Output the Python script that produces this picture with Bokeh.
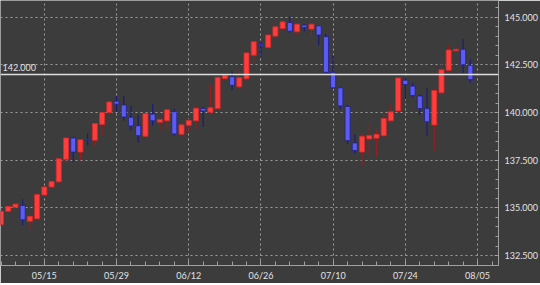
import pandas as pd
from bokeh.plotting import figure
from bokeh.models import Range1d, FixedTicker, NumeralTickFormatter, LinearAxis, Span, Label
from bokeh.embed import file_html
from bokeh.resources import INLINE

# ---- data (USD/JPY daily candles) ----
dates = [d.strftime("%m/%d") for d in pd.bdate_range("2023-05-05", "2023-08-04")]

opens = [134.12, 134.82, 135.03, 135.13, 134.30, 134.43, 135.68, 136.10, 136.37, 137.55,
         138.67, 137.93, 138.60, 138.55, 139.38, 140.00, 140.60, 140.40, 139.75, 139.31,
         138.76, 139.92, 139.49, 139.57, 140.05, 138.86, 139.33, 139.57, 140.22, 140.02,
         140.21, 141.78, 141.88, 141.35, 141.77, 143.01, 143.58, 143.42, 144.01, 144.41,
         144.72, 144.24, 144.59, 144.38, 144.55, 143.98, 142.11, 141.30, 140.32, 138.41,
         137.93, 138.62, 138.66, 138.79, 139.57, 140.09, 141.70, 141.39, 140.87, 140.21,
         139.35, 141.04, 142.22, 143.24, 143.32, 142.48]
highs = [134.90, 135.12, 135.25, 135.45, 134.60, 135.75, 136.12, 136.42, 137.62, 138.70,
         138.72, 138.62, 138.90, 139.45, 140.02, 140.60, 140.87, 140.90, 140.35, 139.90,
         140.00, 140.44, 139.77, 140.20, 140.20, 139.40, 139.66, 140.35, 140.30, 141.47,
         141.88, 142.00, 142.15, 142.29, 143.15, 143.75, 143.70, 144.10, 144.52, 144.80,
         145.05, 144.66, 144.63, 144.66, 144.60, 144.12, 143.00, 141.35, 140.40, 138.85,
         138.90, 139.40, 139.14, 140.00, 140.44, 141.85, 141.82, 141.56, 140.95, 141.30,
         141.20, 142.60, 143.50, 143.35, 143.89, 142.80]
lows = [134.05, 134.75, 134.95, 134.10, 133.88, 134.40, 135.62, 136.05, 136.30, 137.38,
        137.40, 137.50, 138.27, 138.24, 138.82, 139.95, 140.05, 139.57, 139.05, 138.45,
        138.70, 139.31, 139.05, 139.14, 138.80, 138.70, 138.97, 139.14, 139.25, 139.97,
        140.15, 141.72, 141.16, 141.30, 141.70, 142.62, 142.94, 143.38, 143.95, 144.35,
        144.20, 144.07, 144.24, 144.07, 143.55, 142.05, 141.25, 140.18, 138.36, 137.85,
        137.24, 137.75, 137.70, 138.70, 139.50, 140.02, 140.70, 140.78, 139.86, 138.76,
        138.00, 140.95, 142.15, 143.20, 142.08, 141.56]
closes = [134.82, 135.08, 135.20, 134.38, 134.56, 135.70, 136.10, 136.39, 137.58, 138.67,
          137.93, 138.58, 138.55, 139.43, 140.00, 140.56, 140.44, 139.77, 139.30, 138.79,
          139.95, 139.57, 139.64, 140.15, 138.88, 139.36, 139.58, 140.23, 140.09, 140.26,
          141.85, 141.97, 141.43, 141.83, 143.13, 143.72, 143.50, 144.07, 144.50, 144.76,
          144.27, 144.64, 144.47, 144.64, 144.07, 142.11, 141.30, 140.35, 138.53, 138.01,
          138.76, 138.80, 138.86, 139.69, 140.04, 141.82, 141.47, 140.90, 140.21, 139.52,
          141.16, 142.25, 143.29, 143.32, 142.51, 141.73]

x_tick_labels = ["05/15", "05/29", "06/12", "06/26", "07/10", "07/24", "08/05"]
y_ticks = [132.5, 135.0, 137.5, 140.0, 142.5, 145.0]
ref_level = 142.0

# ---- derived ----
xs = list(range(len(dates)))
tick_pos = [dates.index(t) if t in dates else len(dates) for t in x_tick_labels]
up = [c >= o for o, c in zip(opens, closes)]
tops = [max(o, c) for o, c in zip(opens, closes)]
bots = [min(o, c) for o, c in zip(opens, closes)]

UP_FILL, UP_LINE, UP_WICK = "#ff3d3d", "#d42a2a", "#9a1c1c"
DN_FILL, DN_LINE, DN_WICK = "#5c5cf2", "#22228c", "#1c1c78"
BG = "#3c3c3c"
TXT = "#e2e2e2"
FONT = "Lato"

p = figure(width=540, height=283, output_backend="svg", toolbar_location=None,
           x_range=Range1d(-0.07, 68.9), y_range=Range1d(131.98, 145.88),
           y_axis_location=None)
p.min_border_left = 0
p.min_border_right = 40
p.min_border_top = 0
p.min_border_bottom = 15
p.background_fill_color = BG
p.border_fill_color = BG
p.outline_line_color = None

# wicks
for flag, col in ((True, UP_WICK), (False, DN_WICK)):
    idx = [i for i in xs if up[i] == flag]
    p.segment(x0=[xs[i] for i in idx], y0=[highs[i] for i in idx],
              x1=[xs[i] for i in idx], y1=[lows[i] for i in idx],
              line_color=col, line_width=1.2)
# bodies
for flag, fc, lc in ((True, UP_FILL, UP_LINE), (False, DN_FILL, DN_LINE)):
    idx = [i for i in xs if up[i] == flag]
    p.vbar(x=[xs[i] for i in idx], width=0.7, top=[tops[i] for i in idx],
           bottom=[bots[i] for i in idx], fill_color=fc, line_color=lc, line_width=0.8)

# x axis
xa = p.xaxis[0]
xa.ticker = FixedTicker(ticks=tick_pos, minor_ticks=list(range(0, len(dates) + 4, 2)))
xa.major_label_overrides = {tp: lab for tp, lab in zip(tick_pos, x_tick_labels)}
xa.axis_line_color = "#a0a0a0"
xa.major_tick_in = 5
xa.major_tick_out = 0
xa.minor_tick_in = 4
xa.minor_tick_out = 0
xa.major_tick_line_color = "#a0a0a0"
xa.minor_tick_line_color = "#a0a0a0"
xa.major_label_text_color = TXT
xa.major_label_text_font = FONT
xa.major_label_text_font_size = "9px"
xa.major_label_standoff = 4

# right y axis
ya = LinearAxis(ticker=FixedTicker(ticks=y_ticks,
                                   minor_ticks=[131.5 + 0.5 * k for k in range(30)]),
                formatter=NumeralTickFormatter(format="0.000"))
ya.axis_line_color = "#a0a0a0"
ya.major_tick_in = 4
ya.major_tick_out = 0
ya.minor_tick_in = 3
ya.minor_tick_out = 0
ya.major_tick_line_color = "#a0a0a0"
ya.minor_tick_line_color = "#a0a0a0"
ya.major_label_text_color = TXT
ya.major_label_text_font = FONT
ya.major_label_text_font_size = "9px"
ya.major_label_standoff = 6
p.add_layout(ya, "right")

# grids
p.xgrid.ticker = xa.ticker
p.ygrid.ticker = ya.ticker
for g in (p.xgrid[0], p.ygrid[0]):
    g.grid_line_color = "#a8a8a8"
    g.grid_line_dash = "2 3"
    g.grid_line_width = 1
    g.grid_line_alpha = 0.9

# reference line
p.add_layout(Span(location=ref_level, dimension="width", line_color="#dedede", line_width=1.5))
p.add_layout(Label(x=2, x_units="screen", y=ref_level, y_offset=3, text=f"{ref_level:.3f}",
                   text_color=TXT, text_font=FONT, text_font_size="9px",
                   text_baseline="bottom", text_align="left"))

open("out.html", "w").write(file_html(p, INLINE))
